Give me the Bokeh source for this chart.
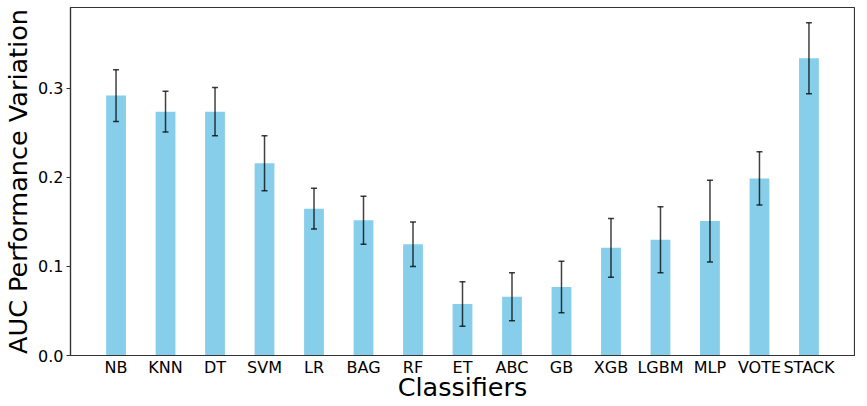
from bokeh.plotting import figure
from bokeh.models import ColumnDataSource, Range1d, FixedTicker, Whisker, TeeHead, NumeralTickFormatter
from bokeh.embed import file_html
from bokeh.resources import INLINE

classifiers = ["NB", "KNN", "DT", "SVM", "LR", "BAG", "RF", "ET", "ABC", "GB",
               "XGB", "LGBM", "MLP", "VOTE", "STACK"]
auc_variation = [0.292, 0.274, 0.274, 0.216, 0.165, 0.152, 0.125, 0.058, 0.066, 0.077,
                 0.121, 0.130, 0.151, 0.199, 0.334]
auc_std = [0.029, 0.023, 0.027, 0.031, 0.023, 0.027, 0.025, 0.025, 0.027, 0.029,
           0.033, 0.037, 0.046, 0.030, 0.040]
y_ticks = [0.0, 0.1, 0.2, 0.3]
x_title = "Classifiers"
y_title = "AUC Performance Variation"

xs = list(range(len(classifiers)))
src = ColumnDataSource(dict(
    x=xs, top=auc_variation,
    upper=[m + s for m, s in zip(auc_variation, auc_std)],
    lower=[m - s for m, s in zip(auc_variation, auc_std)],
))

p = figure(width=855, height=404, output_backend="svg", toolbar_location=None,
           x_range=Range1d(-0.92, len(classifiers) - 1 + 0.92), y_range=Range1d(0, 0.391),
           min_border_top=7, min_border_right=1, min_border_left=10, min_border_bottom=10)

p.vbar(x="x", top="top", width=0.4, bottom=0, source=src, fill_color="#87CEEB", line_color=None)

w = Whisker(base="x", upper="upper", lower="lower", source=src, level="overlay",
            line_color="black", line_alpha=0.75, line_width=1.5,
            upper_head=TeeHead(size=6, line_color="black", line_alpha=0.75, line_width=1.5),
            lower_head=TeeHead(size=6, line_color="black", line_alpha=0.75, line_width=1.5))
p.add_layout(w)

p.xgrid.visible = False
p.ygrid.visible = False
p.outline_line_color = "#333333"
p.outline_line_width = 1.2

font = "DejaVu Sans"
p.xaxis.ticker = FixedTicker(ticks=xs)
p.xaxis.major_label_overrides = {i: c for i, c in enumerate(classifiers)}
p.yaxis.ticker = FixedTicker(ticks=y_ticks)
p.yaxis.formatter = NumeralTickFormatter(format="0.0")

for ax in (p.xaxis[0], p.yaxis[0]):
    ax.axis_line_color = "#333333"
    ax.axis_line_width = 1.2
    ax.major_tick_line_color = "#333333"
    ax.minor_tick_line_color = None
    ax.major_tick_in = 0
    ax.major_label_text_font = font
    ax.major_label_text_font_size = "16px"
    ax.major_label_text_color = "black"
    ax.axis_label_text_font = font
    ax.axis_label_text_font_size = "25.5px"
    ax.axis_label_text_font_style = "normal"
    ax.axis_label_text_color = "black"

p.xaxis.major_tick_out = 0
p.xaxis.major_label_standoff = 2
p.xaxis.axis_label_standoff = -8
p.xaxis.axis_label = x_title

p.yaxis.major_tick_out = 4
p.yaxis.major_label_standoff = 3
p.yaxis.axis_label_standoff = 2
p.yaxis.axis_label = y_title

open("out.html", "w").write(file_html(p, INLINE))
